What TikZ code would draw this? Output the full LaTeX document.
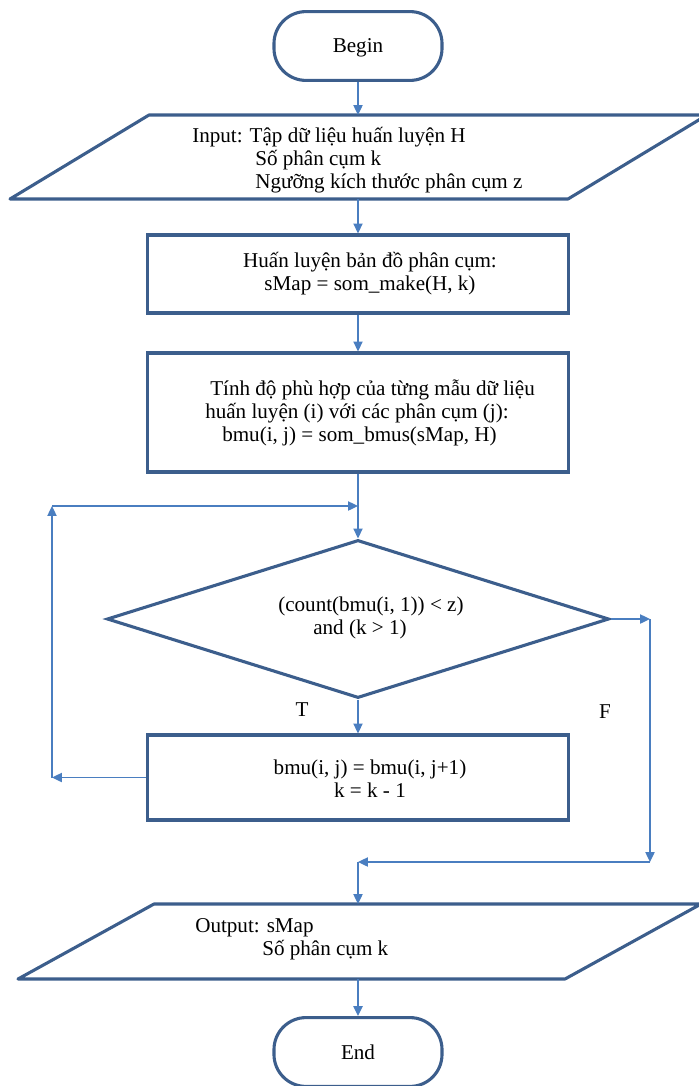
\documentclass[tikz,border=0pt]{standalone}
\usepackage{fontspec}
\setmainfont{Liberation Serif}
\usetikzlibrary{arrows.meta,shapes.geometric}

\definecolor{shapeblue}{RGB}{60,94,140}
\definecolor{arrowblue}{RGB}{74,126,192}

\begin{document}
\begin{tikzpicture}[x=0.025cm,y=-0.025cm,
  font=\fontsize{15}{16.4}\selectfont,
  term/.style={draw=shapeblue,line width=2.2pt,rounded corners=0.8cm,minimum width=4.2cm,minimum height=1.72cm,text depth=0pt},
  proc/.style={draw=shapeblue,line width=2.2pt,minimum width=10.5cm},
  io/.style={draw=shapeblue,line width=2.2pt,line join=round},
  cond/.style={draw=shapeblue,line width=2.2pt,diamond,minimum width=12.55cm,minimum height=3.95cm,inner sep=0pt},
  txt/.style={inner sep=0pt,align=center},
  arrow/.style={draw=arrowblue,line width=1pt,-{Triangle[length=7pt,width=6.5pt]}}]
  \useasboundingbox (0,0) rectangle (698,1086);
  % begin / end
  \node[term] (begin) at (358,46) {Begin};
  \node[term] (end) at (358,1052) {End};
  % input
  \draw[io] (149,115) -- (707,115) -- (568,199) -- (10,199) -- cycle;
  \coordinate (inN) at (358,115);\coordinate (inS) at (358,199);
  \node[txt,align=left,anchor=west] (intxt) at (192,160) {Input: Tập dữ liệu huấn luyện H\\
    \hspace*{1.575cm}Số phân cụm k\\
    \hspace*{1.575cm}Ngưỡng kích thước phân cụm z};
  % processing boxes
  \node[proc,minimum height=1.95cm] (train) at (358,274) {};
  \node[txt] (traintxt) at (370,274) {Huấn luyện bản đồ phân cụm:\\sMap = som\_make(H, k)};
  \node[proc,minimum height=2.975cm] (fit) at (358,412.5) {};
  \node[txt,align=left,anchor=west] (fittxt) at (205,412.5) {\hspace*{0.125cm}Tính độ phù hợp của từng mẫu dữ liệu\\
    huấn luyện (i) với các phân cụm (j):\\
    \hspace*{0.425cm}bmu(i, j) = som\_bmus(sMap, H)};
  \node[cond] (test) at (358,619) {};
  \node[txt,align=left,anchor=west] (testtxt) at (278,618) {(count(bmu(i, 1)) < z)\\\hspace*{0.875cm}and (k > 1)};
  \node[proc,minimum height=2.125cm] (shift) at (358,777.5) {};
  \node[txt] (shifttxt) at (370,779) {bmu(i, j) = bmu(i, j+1)\\k = k - 1};
  % output
  \draw[io] (154,904) -- (701,904) -- (565,979) -- (18,979) -- cycle;
  \coordinate (outN) at (358,904);\coordinate (outS) at (358,979);
  \node[txt,align=left,anchor=west] (outtxt) at (195,939) {Output: sMap\\\hspace*{1.675cm}Số phân cụm k};
  % labels
  \node (T) at (302,710) {T};
  \node (F) at (605,712) {F};
  % loop and exit points
  \coordinate (loopB) at (52,777.5);\coordinate (loopL) at (52,506);\coordinate (loopJ) at (358,506);
  \coordinate (rgtT) at (650,619);\coordinate (rgtB) at (650,862);\coordinate (joinB) at (358,862);
  % connectors
  \draw[arrow] (begin) -- (inN);
  \draw[arrow] (inS) -- (train);
  \draw[arrow] (train) -- (fit);
  \draw[arrow] (fit) -- (test);
  \draw[arrow] (test) -- (shift);
  \draw[arrow] (shift) -- (loopB);
  \draw[arrow] (loopB) -- (loopL);
  \draw[arrow] (loopL) -- (loopJ);
  \draw[arrow] (test.east) -- (rgtT);
  \draw[arrow] (rgtT) -- (rgtB);
  \draw[arrow] (rgtB) -- (joinB);
  \draw[arrow] (joinB) -- (outN);
  \draw[arrow] (outS) -- (end);
\end{tikzpicture}
\end{document}
